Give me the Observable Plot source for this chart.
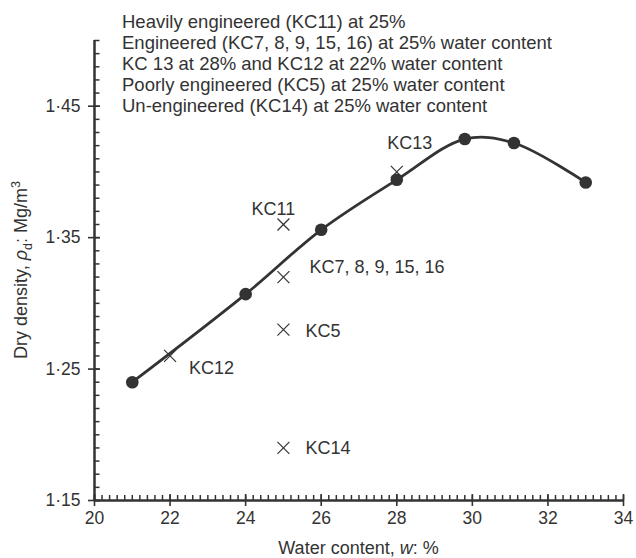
<!DOCTYPE html>
<html><head><meta charset="utf-8">
<script src="https://cdn.jsdelivr.net/npm/d3@7"></script>
<script src="https://cdn.jsdelivr.net/npm/@observablehq/plot@0.6"></script>
<style>body{margin:0;background:#fff}</style>
</head><body><div id="chart"></div>
<script>
// Compaction curve (filled circles)
const curveW = [21, 24, 26, 28, 29.8, 31.1, 33];
const curveRho = [1.240, 1.307, 1.356, 1.394, 1.425, 1.422, 1.392];
// Field samples (crosses)
const sampleLabels = ["KC12", "KC11", "KC7, 8, 9, 15, 16", "KC5", "KC14", "KC13"];
const sampleW = [22, 25, 25, 25, 25, 28];
const sampleRho = [1.26, 1.36, 1.32, 1.28, 1.19, 1.40];
// Axis ticks
const xTicks = [20, 22, 24, 26, 28, 30, 32, 34];
const yTicks = [1.15, 1.25, 1.35, 1.45];
// Legend text
const legendLines = [
  "Heavily engineered (KC11) at 25%",
  "Engineered (KC7, 8, 9, 15, 16) at 25% water content",
  "KC 13 at 28% and KC12 at 22% water content",
  "Poorly engineered (KC5) at 25% water content",
  "Un-engineered (KC14) at 25% water content"
];

const curve = curveW.map((w, i) => ({w, rho: curveRho[i]}));
const samples = sampleLabels.map((label, i) => ({label, w: sampleW[i], rho: sampleRho[i]}));
const minorX = d3.range(0, 71).map(i => 20 + i * 0.2);
const minorY = d3.range(0, 36).map(i => 1.15 + i * 0.01);

// label placement (style only)
const labelStyle = {
  "KC12": {dx: 19, dy: 12, textAnchor: "start"},
  "KC11": {dx: -10, dy: -15, textAnchor: "middle"},
  "KC7, 8, 9, 15, 16": {dx: 26, dy: -10, textAnchor: "start"},
  "KC5": {dx: 22, dy: 2, textAnchor: "start"},
  "KC14": {dx: 22, dy: 0, textAnchor: "start"},
  "KC13": {dx: 13, dy: -29, textAnchor: "middle"}
};

const ink = "#333333";
const font = "'Liberation Sans', Arial, Helvetica, sans-serif";
const W = 636, H = 558, mL = 94, mR = 13, mT = 40, mB = 58;
const frameW = W - mL - mR, frameH = H - mT - mB;

const plot = Plot.plot({
  width: W, height: H,
  marginLeft: mL, marginRight: mR, marginTop: mT, marginBottom: mB,
  style: {fontFamily: font, fontSize: "17.5px", color: ink, background: "#fff", overflow: "visible"},
  x: {domain: [20, 34], label: null},
  y: {domain: [1.15, 1.50], label: null},
  marks: [
    Plot.ruleX([20], {stroke: ink, strokeWidth: 2.5}),
    Plot.ruleY([1.15], {stroke: ink, strokeWidth: 2.5}),
    // inward minor ticks
    Plot.tickX(minorX, {x: d => d, insetTop: frameH - 5, stroke: ink, strokeWidth: 1.5}),
    Plot.tickY(minorY, {y: d => d, insetRight: frameW - 5.5, stroke: ink, strokeWidth: 1.5}),
    // inward part of major ticks
    Plot.tickX(xTicks, {x: d => d, insetTop: frameH - 6, stroke: ink, strokeWidth: 1.6}),
    Plot.tickY(yTicks, {y: d => d, insetRight: frameW - 6, stroke: ink, strokeWidth: 1.6}),
    // outward major ticks + labels
    Plot.axisX(xTicks, {tickSize: 6, tickPadding: 5, strokeWidth: 1.6, label: null}),
    Plot.axisY(yTicks, {tickSize: 6, tickPadding: 8, strokeWidth: 1.6, label: null,
      tickFormat: d => d.toFixed(2).replace(".", "·")}),
    Plot.line(curve, {x: "w", y: "rho", curve: "catmull-rom", stroke: ink, strokeWidth: 2.8}),
    Plot.dot(curve, {x: "w", y: "rho", r: 6.3, fill: ink}),
    Plot.dot(samples, {x: "w", y: "rho", symbol: "times", r: 5.5, stroke: ink, strokeWidth: 1.2}),
    ...samples.map(s => Plot.text([s], {x: "w", y: "rho", text: "label", fill: ink, fontSize: 18,
      dx: labelStyle[s.label].dx, dy: labelStyle[s.label].dy, textAnchor: labelStyle[s.label].textAnchor}))
  ]
});

const svg = d3.select(plot);
// legend block
const leg = svg.append("g").attr("font-family", font).attr("font-size", 18.5).attr("fill", ink)
  .attr("text-anchor", "start");
legendLines.forEach((t, i) => {
  leg.append("text").attr("x", 122).attr("y", 21.7 + i * 21).attr("dy", "0.35em").text(t);
});
// x label
const xl = svg.append("text").attr("x", mL + frameW / 2).attr("y", 548).attr("dy", "0.35em")
  .attr("text-anchor", "middle").attr("font-family", font).attr("font-size", 18).attr("fill", ink);
xl.append("tspan").text("Water content, ");
xl.append("tspan").attr("font-style", "italic").text("w");
xl.append("tspan").text(": %");
// y label
const yl = svg.append("text").attr("transform", "translate(21,270) rotate(-90)").attr("dy", "0.35em")
  .attr("text-anchor", "middle").attr("font-family", font).attr("font-size", 18).attr("fill", ink);
yl.append("tspan").text("Dry density, ");
yl.append("tspan").attr("font-style", "italic").text("ρ");
yl.append("tspan").attr("font-size", 12.5).attr("dy", 5).text("d");
yl.append("tspan").attr("dy", -5).text(": Mg/m");
yl.append("tspan").attr("font-size", 12.5).attr("dy", -7).text("3");

document.getElementById("chart").appendChild(plot);
</script>
</body></html>
